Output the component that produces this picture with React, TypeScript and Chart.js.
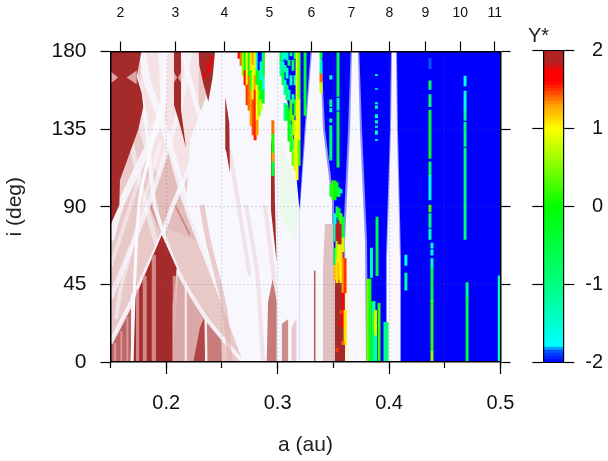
import React, { useEffect, useRef } from "react";
import { Chart, registerables } from "chart.js";

Chart.register(...registerables);

const FONT = "'Liberation Sans', Arial, sans-serif";

const xMinorTicks = [0.15, 0.2, 0.25, 0.3, 0.35, 0.4, 0.45, 0.5];
const xMajorTicks = [0.2, 0.3, 0.4, 0.5];
const resonanceA = [0.1588, 0.2082, 0.2521, 0.2925, 0.3302, 0.3661, 0.4002, 0.4325, 0.4639, 0.4949];
const resonanceN = ["2", "3", "4", "5", "6", "7", "8", "9", "10", "11"];
const yTicks = [0, 45, 90, 135, 180];
const colorbarTicks = [-2, -1, 0, 1, 2];

// Y* -> colour stops of the colour bar
const paletteStops: [number, number, number, number][] = [
  [-2, 0, 0, 255], [-1.85, 0, 90, 255], [-1.78, 0, 255, 255], [-1, 0, 255, 128], [0, 0, 255, 0],
  [1, 255, 255, 0], [1.3, 255, 160, 0], [1.6, 255, 0, 0], [1.75, 250, 0, 0], [1.85, 178, 34, 34], [2, 178, 34, 34],
];
function palette(v: number) {
  for (let k = 1; k < paletteStops.length; k++) {
    const a = paletteStops[k - 1], b = paletteStops[k];
    if (v <= b[0]) {
      const t = Math.max(0, (v - a[0]) / (b[0] - a[0]));
      return `rgb(${Math.round(a[1] + t * (b[1] - a[1]))},${Math.round(a[2] + t * (b[2] - a[2]))},${Math.round(a[3] + t * (b[3] - a[3]))})`;
    }
  }
  return "rgb(178,34,34)";
}

// filled regions of the (a, i) plane : flat a,i pairs
const paleBase = [0.15, 0, 0.15, 180, 0.41, 180, 0.41, 0];
const pinkMain = [0.15, 0, 0.15, 180, 0.2292, 180, 0.2378, 150, 0.2572, 100, 0.2752, 50, 0.285, 0];
const upperPale = [0.1778, 180, 0.2292, 180, 0.2292, 120, 0.205, 100, 0.185, 115, 0.175, 135];
const diagMedium = [0.2016, 123, 0.2178, 90.4, 0.2276, 70, 0.2, 78, 0.1855, 91];
const medium1 = [0.15, 0, 0.15, 11, 0.1684, 33, 0.1684, 0];
const medium2 = [0.2058, 0, 0.2108, 54.5, 0.2363, 25.5, 0.2498, 14, 0.2498, 0];
const medium3 = [0.2243, 0, 0.2303, 20, 0.2339, 25.5, 0.2349, 0];
const medium4 = [0.2363, 24, 0.2489, 14, 0.2498, 0, 0.2378, 0];
const medium5 = [0.2902, 0, 0.2914, 35, 0.2955, 48, 0.2992, 35, 0.2992, 0];
const medium6 = [0.3036, 0, 0.3036, 22, 0.3096, 25, 0.3096, 0];
const medium7 = [0.3123, 0, 0.3123, 20, 0.3168, 25, 0.3168, 0];
const brown1 = [0.15, 180, 0.1778, 180, 0.1735, 165.4, 0.178, 156, 0.1794, 148, 0.175, 135, 0.1585, 105.5, 0.1579, 91, 0.15, 79.4];
const brown2 = [0.207, 180, 0.2133, 180, 0.2133, 146, 0.2178, 124, 0.2124, 137.4, 0.207, 149];
const brown3 = [0.2292, 180, 0.2438, 180, 0.2417, 165.4, 0.2378, 150.9, 0.2333, 161.5, 0.2297, 172];
const brown4 = [0.253, 153.8, 0.2566, 138.5, 0.2572, 109.6, 0.2536, 123];
const brown5 = [0.294, 125.8, 0.2967, 137.4, 0.2976, 91, 0.2991, 58, 0.294, 88];
const brown6 = [0.1705, 0, 0.1705, 35, 0.196, 73.6, 0.2094, 54.5, 0.2058, 33, 0.2058, 0];
const brown7 = [0.3515, 0, 0.3515, 65, 0.353, 82, 0.3585, 75, 0.3595, 60, 0.3605, 0];
const whiteMass = [0.2447, 180, 0.2348, 152, 0.2213, 128.7, 0.2178, 91, 0.242, 52, 0.2689, 0, 0.2931, 0, 0.2931, 180];
const diamond1 = [0.15, 168.5, 0.1568, 165, 0.15, 161.5];
const diamond2 = [0.1645, 165, 0.1735, 169, 0.1735, 161];
const diamond3 = [0.207, 168, 0.2098, 165, 0.207, 162];
const diamond4 = [0.2133, 168, 0.2105, 165, 0.2133, 162];
const blueMain = [0.33, 0, 0.33, 180, 0.5, 180, 0.5, 0];
const blueFan = [0.3021, 180, 0.3308, 180, 0.3254, 135, 0.3201, 88, 0.3192, 91, 0.3138, 128.7];
const fan1Base = [0.2654, 180, 0.2887, 180, 0.2887, 167, 0.2842, 144, 0.2797, 128.7, 0.2734, 150, 0.2689, 167.5];
const wedge1 = [0.3308, 180, 0.338, 180, 0.3407, 135, 0.3488, 93, 0.3488, 0, 0.3201, 0, 0.3201, 88, 0.3254, 135];
const wedge2 = [0.3667, 180, 0.3721, 180, 0.3739, 135, 0.3784, 70, 0.3793, 0, 0.3622, 0, 0.3604, 70, 0.365, 135];
const wedge3 = [0.4026, 180, 0.4062, 180, 0.4071, 135, 0.4098, 60, 0.4098, 0, 0.3981, 0, 0.3981, 60, 0.4017, 135];
const halo1 = [0.3296, 180, 0.3392, 180, 0.3425, 135, 0.3506, 93, 0.3506, 0, 0.3195, 0, 0.3195, 88, 0.3242, 135];
const halo2 = [0.3655, 180, 0.3733, 180, 0.3757, 135, 0.3802, 70, 0.3811, 0, 0.3604, 0, 0.3586, 70, 0.3632, 135];
const halo3 = [0.4017, 180, 0.4071, 180, 0.408, 135, 0.4107, 60, 0.4107, 0, 0.3972, 0, 0.3972, 60, 0.4008, 135];
const pinkColumn = [0.3407, 0, 0.3407, 55, 0.3425, 80, 0.3497, 80, 0.3497, 60, 0.3515, 50, 0.3515, 0];
const greenFringe = [0.3021, 128, 0.3165, 105, 0.3192, 88, 0.3165, 70, 0.3021, 85];
const yellowFringe = [0.3605, 0, 0.3605, 62, 0.3632, 50, 0.3632, 0];
const lavender = "rgba(188,188,255,0.75)";

// pale vertical stripes : a-left, a-right, top i
const paleStripes: [number, number, number][] = [
  [0.1529, 0.1552, 11], [0.1588, 0.1606, 18], [0.1642, 0.166, 26], [0.1729, 0.1758, 42], [0.1789, 0.1825, 50],
  [0.187, 0.1908, 62], [0.2058, 0.2085, 50], [0.2148, 0.2175, 40], [0.2208, 0.2226, 35], [0.3201, 0.3245, 60],
];
const whiteStripes: [number, number, number][] = [
  [0.1684, 0.1695, 40], [0.2166, 0.2184, 44], [0.2348, 0.2366, 25], [0.2992, 0.3036, 60], [0.3096, 0.3123, 60],
];
const darkStripes: [number, number, number][] = [[0.3327, 0.3339, 53]];

// ridge lines : flat a,i pairs
const streak1 = [0.1783, 180, 0.1836, 161.7, 0.1989, 134.5, 0.2186, 91, 0.242, 52, 0.2689, 5.8];
const streak2 = [0.1675, 180, 0.181, 143, 0.1899, 91, 0.2094, 54.5, 0.2357, 25.5, 0.2689, 0];
const streak3 = [0.2, 180, 0.198, 152, 0.1926, 140.3, 0.1765, 95.7, 0.172, 52, 0.1693, 0];
const streak4 = [0.15, 11, 0.1675, 33, 0.1962, 73.6, 0.2061, 91, 0.2303, 128.7, 0.2438, 167.5, 0.25, 180];
const streak5 = [0.1962, 180, 0.1975, 152, 0.1926, 137.4, 0.1585, 90, 0.15, 70.7];
const streak6 = [0.2213, 180, 0.2124, 148, 0.1855, 94, 0.15, 37];
const streak7 = [0.2142, 180, 0.2276, 148, 0.2375, 130.4, 0.251, 107, 0.2662, 79.4, 0.2931, 30, 0.3111, 0];
const streak8 = [0.1575, 180, 0.168, 130, 0.182, 90, 0.2, 50];
const streak9 = [0.155, 25, 0.16, 45, 0.18, 92, 0.195, 128];
const streak10 = [0.15, 55, 0.17, 95, 0.19, 140];
const pinkStreak = [0.2573, 0, 0.2527, 30, 0.2483, 43, 0.2375, 71, 0.232, 91];
const faint1 = [0.2716, 91, 0.2815, 52, 0.2869, 0];
const faint2 = [0.2886, 91, 0.2976, 42, 0.302, 0];
const faint3 = [0.257, 123, 0.275, 50];
const fine1 = [0.2016, 123, 0.2178, 90.4, 0.2276, 73.6];
const fine2 = [0.1855, 91, 0.1971, 73.6];
const fine3 = [0.2079, 91, 0.2213, 73.6];

// vertical runs of cells : a, i-low, i-high, Y*
const fan1Runs: number[][] = [
  [0.2654, 176, 180, 1.7], [0.2672, 172, 180, 1.4], [0.269, 166, 180, 0.6], [0.2708, 169, 180, -0.1], [0.2708, 160.6, 169, 1.6],
  [0.2726, 160.6, 180, 1], [0.2726, 149, 160.6, 1.5], [0.2744, 166, 180, -0.2], [0.2744, 146, 166, 1.4],
  [0.2762, 169, 180, 1.1], [0.2762, 157.7, 169, 0.2], [0.2762, 137, 157.7, 1.3],
  [0.278, 172, 180, 1.3], [0.278, 152, 172, 0.9], [0.278, 131.6, 152, 1.45],
  [0.2798, 166, 180, 0.9], [0.2798, 157.7, 166, 1.3], [0.2798, 128.7, 157.7, 1.55],
  [0.2816, 169, 180, -1.5], [0.2816, 160.6, 169, -0.2], [0.2816, 140, 160.6, 1], [0.2816, 131.6, 140, 1.3],
  [0.2834, 169, 180, -2], [0.2834, 157.7, 169, -0.5], [0.2834, 143, 157.7, 0.5],
  [0.2852, 174, 180, -2], [0.2852, 163.5, 174, -1.6], [0.2852, 152, 163.5, 0], [0.2852, 146, 152, 0.8],
  [0.287, 166, 180, -0.8], [0.287, 157.7, 166, -1.5], [0.287, 150, 157.7, -0.2],
  [0.2957, 132, 140, 1.4], [0.2957, 121, 132, 0.1], [0.2957, 116, 121, 1.3], [0.2957, 108, 116, -0.4],
  [0.2363, 172, 174, 1.8], [0.238, 168, 171, 1.75], [0.2398, 170, 176, 1.8], [0.2345, 165, 167, 1.75], [0.2415, 175, 177, 1.8],
];
const fan2Runs: number[][] = [
  [0.303, 174, 180, -0.3], [0.303, 166, 174, -1.3], [0.3048, 175, 180, -1.7], [0.3048, 169, 174, -1.5], [0.3048, 160.6, 169, -0.5],
  [0.3066, 176, 180, -1.7], [0.3066, 168, 172, -1], [0.3066, 155, 163.5, -1.4], [0.3066, 140, 150, -1.3],
  [0.3084, 164.6, 170.4, -1.5], [0.3084, 152, 160.6, -0.8], [0.3084, 140, 149, -0.3], [0.3084, 175, 180, -1.3],
  [0.3102, 172, 175, -1], [0.3102, 152, 157.7, -1.3], [0.3102, 137.4, 146, 0], [0.3102, 128, 137, -0.1],
  [0.312, 177.4, 180, -1.2], [0.312, 160.6, 166, -1.5], [0.312, 140, 152, 0.3], [0.312, 131.6, 137.4, -0.8], [0.312, 122, 131, 0.2],
  [0.3138, 169, 175, -0.8], [0.3138, 131.6, 143, 0.5], [0.3138, 123, 128.7, -1], [0.3138, 150, 155, -1.3], [0.3138, 114, 122, 0.4],
  [0.3156, 176, 180, -1], [0.3156, 160.6, 166, -1.4], [0.3156, 143, 152, -0.4], [0.3156, 111, 140, 0.8],
  [0.3174, 140, 180, 0.9], [0.3174, 105.5, 140, 1], [0.3192, 152, 180, 0.4], [0.3192, 128.7, 152, 0.9], [0.3192, 114, 128.7, 0.3],
  [0.3246, 143, 180, -0.4],
  [0.3389, 176, 180, -0.4], [0.3389, 167, 175, -1.3], [0.3389, 162, 167, 1.4], [0.3389, 156, 162, 0.8],
];
const blobRuns: number[][] = [
  [0.3542, 154, 180, -0.6], [0.3542, 146, 153, -1.2], [0.3542, 113, 145, -0.5],
  [0.3477, 164, 166, -1.4], [0.3477, 148, 152, -1], [0.3477, 145, 147, -1.3], [0.3477, 139, 141, -1.2], [0.3477, 117, 137, -0.9],
  [0.3479, 96, 103, -0.3], [0.3497, 94, 105, 0.2], [0.3515, 94, 105, 0], [0.3533, 96, 104, -0.2], [0.3551, 96, 101, -0.5], [0.3569, 98, 100, -1.2],
];
const columnRuns: number[][] = [
  [0.3515, 78, 86, -1.6], [0.3515, 70, 78, -1.2], [0.3515, 56, 66, -0.6], [0.3515, 48, 56, 1.2],
  [0.3533, 84, 90, -0.6], [0.3533, 70, 80, 1.8], [0.3533, 60, 70, 0.6], [0.3533, 46, 60, 1.1],
  [0.3551, 82, 89, -0.2], [0.3551, 68, 82, 2], [0.3551, 58, 68, 0.9], [0.3551, 48, 58, 1.2],
  [0.3569, 80, 86, 0.3], [0.3569, 68, 80, 2], [0.3569, 58, 68, 1.1], [0.3569, 46, 58, 1],
  [0.3587, 72, 84, -0.4], [0.3587, 64, 72, 0.8], [0.3587, 40, 60, 1.3], [0.3587, 20, 40, 1.6],
  [0.3605, 40, 60, 1.5], [0.3605, 10, 30, 1.1],
  [0.3569, 28, 30, 1.5], [0.3551, 22, 23, 1.7], [0.3587, 10, 12, 1.4], [0.3533, 6, 8, 1.5],
];
const stripRuns: number[][] = [
  [0.3887, 166, 166.6, -1.5], [0.3887, 158, 158.5, -1.5], [0.3887, 149.6, 150.4, -1.5], [0.3887, 147, 148.5, -1.2], [0.3887, 141.5, 143.5, -1.4],
  [0.3887, 138.5, 140, -1.2], [0.3887, 136, 136.8, -1.4], [0.3887, 132, 134, -1.3], [0.3887, 128.3, 129, -1.6],
  [0.4367, 170, 176, -1.85], [0.4367, 158, 163, -0.7], [0.4367, 148, 155, -0.9], [0.4367, 118, 146, -0.3], [0.4367, 108, 116, -0.8], [0.4367, 100, 108, -1.7], [0.4367, 94, 100, -1.5],
  [0.4367, 87, 91, 0.3], [0.4367, 78, 86, -1], [0.4367, 71, 77, -1.3],
  [0.4385, 66, 69, -1.5], [0.4385, 62, 65, -1.5], [0.4385, 55, 60, -1.4], [0.4385, 35, 55, -0.5], [0.4385, 6, 36, 0.2], [0.4385, 0, 6, 0.6],
  [0.4682, 160, 165.8, -1.6], [0.4682, 146, 157, -1.5], [0.4682, 140, 146, -1.1], [0.4682, 125, 139, -0.9], [0.4682, 91, 124, -0.9], [0.4682, 71, 91, -0.9],
  [0.47, 38, 46, -1], [0.47, 20, 38, -0.5], [0.47, 0, 20, -0.4],
  [0.4151, 56, 62, -1.6], [0.4151, 41.7, 51.6, -1.2], [0.4989, 0, 50, -1.4],
  [0.381, 0, 48, 0.4], [0.3828, 0, 48, 0.1], [0.3842, 49, 66, -1.3], [0.3853, 0, 35, -0.9],
  [0.3865, 28, 35, -1.3], [0.3865, 18, 28, 0.3], [0.3865, 0, 18, -0.8], [0.3878, 15, 30, 0.8], [0.3878, 0, 15, -1.3],
  [0.3892, 50, 84, -0.5], [0.391, 0, 34, 0.2], [0.3963, 0, 23, -1.2], [0.3981, 0, 23, -0.8],
];

const pts = (flat: number[]) => {
  const out: { x: number; y: number }[] = [];
  for (let k = 0; k < flat.length; k += 2) out.push({ x: flat[k], y: flat[k + 1] });
  return out;
};
const poly = (flat: number[], color: string) => ({
  type: "line", data: pts([...flat, flat[0], flat[1]]), borderWidth: 0, pointRadius: 0, tension: 0,
  backgroundColor: color, borderColor: color, fill: "shape", spanGaps: true,
});
const stripe = (s: number[], color: string) => poly([s[0], 0, s[0], s[2], s[1], s[2], s[1], 0], color);
const line = (flat: number[], color: string, width: number) => ({
  type: "line", data: pts(flat), borderWidth: width, pointRadius: 0, tension: 0.25, borderColor: color, fill: false,
});
const runs = (list: number[][]) => ({
  type: "bar", data: list.map((r) => ({ x: r[0], y: [r[1], r[2]] })),
  backgroundColor: list.map((r) => palette(r[3])), borderWidth: 0, barThickness: 2.3, grouped: false,
});

export default function App() {
  const mainRef = useRef<HTMLCanvasElement>(null);
  const barRef = useRef<HTMLCanvasElement>(null);
  useEffect(() => {
    const W = "rgba(247,247,254,0.88)";
    const BROWN = "#a52a2a";
    const DIAMOND = "rgba(228,175,175,0.9)";
    const FAINT = "rgba(236,212,218,0.6)";
    const FINE = "rgba(190,100,100,0.55)";
    const layers: any[] = [
      poly(paleBase, "#f7f7fd"),
      poly(pinkMain, "#e9c8c8"),
      poly(upperPale, "rgba(248,236,240,0.7)"),
      poly(diagMedium, "#e3bcbc"),
      line(fine1, FINE, 2), line(fine2, FINE, 2), line(fine3, FINE, 2),
      poly(medium1, "#bd6464"),
      poly(medium2, "#dba8a8"),
      poly(medium4, "#c87c7c"),
      poly(whiteMass, "#f7f7fd"),
      poly(medium3, "#b04545"),
      line(streak8, "rgba(247,247,254,0.55)", 5),
      line(streak9, "rgba(247,247,254,0.55)", 4),
      line(streak10, "rgba(247,247,254,0.5)", 4),
      line(streak6, "rgba(247,247,254,0.75)", 5),
      line(streak5, W, 7),
      line(streak4, W, 4.5),
      line(streak7, W, 5),
      line(streak2, W, 4),
      line(streak1, W, 7),
      line(pinkStreak, "rgba(225,175,175,0.6)", 5),
      line(faint1, FAINT, 4), line(faint2, FAINT, 4), line(faint3, FAINT, 4),
      poly(medium5, "#c67a7a"),
      poly(medium6, "#cc8c8c"),
      poly(medium7, "#e8c8c8"),
      poly(brown1, BROWN), poly(brown2, BROWN), poly(brown3, BROWN), poly(brown4, BROWN), poly(brown5, BROWN), poly(brown6, BROWN),
      poly(diamond1, DIAMOND), poly(diamond2, DIAMOND), poly(diamond3, DIAMOND), poly(diamond4, DIAMOND),
      ...paleStripes.map((s) => stripe(s, "rgba(226,165,165,0.75)")),
      ...whiteStripes.map((s) => stripe(s, W)),
      line(streak3, "#fbfbff", 3),
      poly(greenFringe, "rgba(228,250,228,0.7)"),
      poly(fan1Base, palette(1.2)),
      poly(blueMain, "#0000ff"),
      poly(blueFan, "#0000ff"),
      poly(halo1, lavender), poly(halo2, lavender), poly(halo3, lavender),
      poly(wedge1, "#f7f7fd"), poly(wedge2, "#f7f7fd"), poly(wedge3, "#f7f7fd"),
      poly(pinkColumn, "#dfc1c1"),
      ...darkStripes.map((s) => stripe(s, "#b84545")),
      poly(yellowFringe, "#fff6cc"),
      poly(brown7, BROWN),
      runs(fan1Runs), runs(fan2Runs), runs(blobRuns), runs(columnRuns), runs(stripRuns),
    ];
    layers.forEach((d, k) => (d.order = layers.length - k));

    const fixed = (size: number, horizontal: boolean) => (s: any) => {
      if (horizontal) s.height = size; else s.width = size;
    };
    const gridColor = (ctx: any) => (ctx.tick && (ctx.tick.value <= 0 || ctx.tick.value >= 180 || Math.abs(ctx.tick.value - 0.15) < 1e-6 || Math.abs(ctx.tick.value - 0.5) < 1e-6)
      ? "rgba(0,0,0,0)" : "rgba(105,105,115,0.5)");
    const frame = { color: "#000", width: 1.5, z: 2, dash: [1, 3] };
    const setTicks = (vals: number[]) => (s: any) => { s.ticks = vals.map((value) => ({ value })); };

    const main = new Chart(mainRef.current!, {
      type: "line",
      data: { datasets: layers },
      options: {
        animation: false, responsive: false, events: [], normalized: false,
        layout: { padding: 0 },
        plugins: { legend: { display: false }, tooltip: { enabled: false }, title: { display: false } },
        scales: {
          x: {
            type: "linear", axis: "x", position: "bottom", weight: 0, min: 0.15, max: 0.5, offset: false, afterFit: fixed(0, true),
            afterBuildTicks: setTicks(xMinorTicks),
            grid: { offset: false, color: gridColor, tickColor: "#000", tickLength: 6, z: 1, tickWidth: 1.2, lineWidth: 1 },
            border: frame, ticks: { display: false },
          },
          xMajor: {
            type: "linear", axis: "x", position: "bottom", weight: 1, min: 0.15, max: 0.5, offset: false, afterFit: fixed(99, true),
            afterBuildTicks: setTicks(xMajorTicks),
            grid: { offset: false, drawOnChartArea: false, tickColor: "#000", tickLength: 12, tickWidth: 1.2 },
            border: { display: false },
            ticks: { padding: 17, autoSkip: false, maxRotation: 0, color: "#111", font: { family: FONT, size: 20 }, callback: (v: any) => String(v) },
            title: { display: true, text: "a (au)", color: "#222", font: { family: FONT, size: 21 }, padding: { top: 0, bottom: 3 } },
          },
          xTop: {
            type: "linear", axis: "x", position: "top", min: 0.15, max: 0.5, offset: false, afterFit: fixed(51.5, true),
            afterBuildTicks: setTicks(resonanceA),
            grid: { offset: false, drawOnChartArea: false, tickColor: "#000", tickLength: 10, tickWidth: 1.2 },
            border: { color: "#000", width: 1.5, z: 2 },
            ticks: { padding: 20, autoSkip: false, maxRotation: 0, color: "#111", font: { family: FONT, size: 14 }, callback: (_v: any, k: number) => resonanceN[k] },
          },
          y: {
            type: "linear", axis: "y", position: "left", min: 0, max: 180, afterFit: fixed(110.5, false),
            afterBuildTicks: setTicks(yTicks),
            grid: { color: gridColor, tickColor: "#000", tickLength: 10, z: 1, tickWidth: 1.2 },
            border: frame,
            ticks: { padding: 14, color: "#111", font: { family: FONT, size: 21 } },
            title: { display: true, text: "i (deg)", color: "#222", font: { family: FONT, size: 21 }, padding: { top: 3, bottom: 0 } },
          },
          yRight: {
            type: "linear", axis: "y", position: "right", min: 0, max: 180, afterFit: fixed(107.5, false),
            afterBuildTicks: setTicks(yTicks),
            grid: { drawOnChartArea: false, tickColor: "#000", tickLength: 10, tickWidth: 1.2 },
            border: { color: "#000", width: 1.5, z: 2 },
            ticks: { display: false },
          },
        },
      } as any,
    });

    const levels: number[] = [];
    for (let v = -2; v < 2; v += 0.04) levels.push(v);
    const bar = new Chart(barRef.current!, {
      type: "bar",
      data: {
        datasets: [{
          data: levels.map((v) => ({ x: 0, y: [v, v + 0.045] })) as any,
          backgroundColor: levels.map((v) => palette(v + 0.02)),
          barThickness: 20, borderWidth: 0, grouped: false,
        } as any],
      },
      options: {
        animation: false, responsive: false, events: [],
        plugins: {
          legend: { display: false }, tooltip: { enabled: false },
          title: { display: true, text: "Y*", align: "start", color: "#222", font: { family: FONT, size: 20, weight: "normal" }, padding: { top: 24, bottom: 2.5 } },
        },
        scales: {
          x: { type: "linear", min: -1, max: 1, display: false, offset: false },
          y: {
            type: "linear", position: "left", min: -2, max: 2, afterFit: fixed(15.3, false),
            afterBuildTicks: setTicks(colorbarTicks),
            grid: { color: (c: any) => (Math.abs(c.tick.value) === 2 ? "#000" : "rgba(0,0,0,0)"), tickColor: "#000", tickLength: 11, z: 1, tickWidth: 1.2 },
            border: { color: "#000", width: 1.2, z: 2 }, ticks: { display: false },
          },
          y2: {
            type: "linear", axis: "y", position: "right", min: -2, max: 2, afterFit: fixed(39.7, false),
            afterBuildTicks: setTicks(colorbarTicks),
            grid: { drawOnChartArea: false, tickColor: "#000", tickLength: 11, tickWidth: 1.2 },
            border: { color: "#000", width: 1.2, z: 2 },
            ticks: { display: true, padding: 9, color: "#111", font: { family: FONT, size: 20 }, crossAlign: "far" },
          },
        },
        layout: { padding: { bottom: 99, right: 5 } },
      } as any,
    });
    return () => { main.destroy(); bar.destroy(); };
  }, []);
  return (
    <div style={{ position: "fixed", left: 0, top: 0, width: 608, height: 461, background: "#fff", overflow: "hidden" }}>
      <canvas ref={mainRef} width={608} height={461} style={{ position: "absolute", left: 0, top: 0, width: 608, height: 461 }} />
      <canvas ref={barRef} width={80} height={461} style={{ position: "absolute", left: 528, top: 0, width: 80, height: 461 }} />
    </div>
  );
}
